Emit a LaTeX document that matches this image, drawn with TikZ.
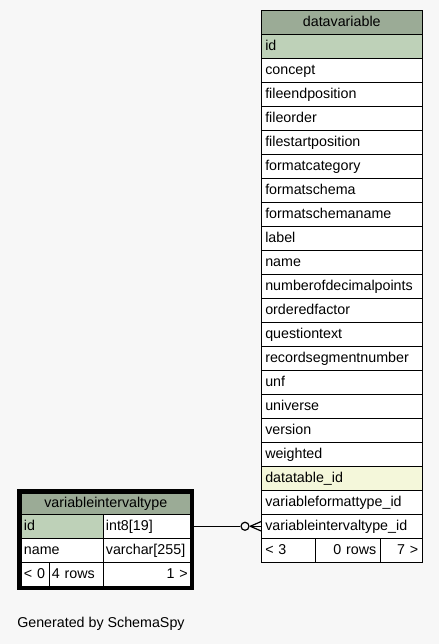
\documentclass[tikz,border=0pt]{standalone}
\usepackage{fontspec}
\setmainfont{Liberation Sans}
\usepackage{tikz}
\usetikzlibrary{positioning}

\definecolor{bgcol}{HTML}{F7F7F7}
\definecolor{hdrcol}{HTML}{9BAB96}
\definecolor{pkcol}{HTML}{BED1B8}
\definecolor{fkcol}{HTML}{F4F7DA}

\tikzset{
  tblrow/.style={draw, anchor=north west, fill=white, minimum height=18pt,
    inner xsep=3pt, inner ysep=0pt, text width=#1, align=left,
    text height=7.8pt, text depth=2.2pt,
    font=\fontsize{10.7}{12}\selectfont},
  tblrow/.default=114.75pt,
  tblhead/.style={tblrow=#1, align=center, fill=hdrcol},
  tblfoot/.style={tblrow=#1, align=right},
  relline/.style={line width=0.9pt},
}

\begin{document}
\begin{tikzpicture}[x=0.75pt,y=0.75pt,yscale=-1,xscale=1]
	%background, sets the diagram size
	\fill [bgcol] (0,0) rectangle (439,644);

	%Table: datavariable
	\node [tblhead=114.75pt] (dvhead) at (261,10) {datavariable};
	\node [tblrow, fill=pkcol] (dvid) at (261,34) {id};
	\node [tblrow] (dvconcept) at (261,58) {concept};
	\node [tblrow] (dvfileend) at (261,82) {fileendposition};
	\node [tblrow] (dvfileorder) at (261,106) {fileorder};
	\node [tblrow] (dvfilestart) at (261,130) {filestartposition};
	\node [tblrow] (dvfmtcat) at (261,154) {formatcategory};
	\node [tblrow] (dvfmtschema) at (261,178) {formatschema};
	\node [tblrow] (dvfmtname) at (261,202) {formatschemaname};
	\node [tblrow] (dvlabel) at (261,226) {label};
	\node [tblrow] (dvname) at (261,250) {name};
	\node [tblrow] (dvdecimals) at (261,274) {numberofdecimalpoints};
	\node [tblrow] (dvordered) at (261,298) {orderedfactor};
	\node [tblrow] (dvquestion) at (261,322) {questiontext};
	\node [tblrow] (dvrecseg) at (261,346) {recordsegmentnumber};
	\node [tblrow] (dvunf) at (261,370) {unf};
	\node [tblrow] (dvuniverse) at (261,394) {universe};
	\node [tblrow] (dvversion) at (261,418) {version};
	\node [tblrow] (dvweighted) at (261,442) {weighted};
	\node [tblrow, fill=fkcol] (dvtable) at (261,466) {datatable\_id};
	\node [tblrow] (dvformat) at (261,490) {variableformattype\_id};
	\node [tblrow] (dvinterval) at (261,514) {variableintervaltype\_id};
	% footer
	\node [tblrow=34.5pt] (dvparents) at (261,538) {< 3};
	\node [tblfoot=42.75pt] (dvrows) at (315,538) {0 rows};
	\node [tblfoot=25.5pt] (dvchildren) at (380,538) {7 >};

	%Table: variableintervaltype
	\node [tblhead=122.75pt, inner xsep=2pt, minimum height=15.75pt] (vithead) at (21,493) {variableintervaltype};
	\node [tblrow=57.5pt, inner xsep=2pt, fill=pkcol] (vitid) at (21,514) {id};
	\node [tblrow=61.25pt, inner xsep=2pt] (vitidtype) at (103,514) {int8[19]};
	\node [tblrow=57.5pt, inner xsep=2pt] (vitname) at (21,538) {name};
	\node [tblrow=61.25pt, inner xsep=2pt] (vitnametype) at (103,538) {varchar[255]};
	% footer
	\node [tblrow=17pt, inner xsep=2pt] (vitparents) at (21,562) {< 0};
	\node [tblrow=36.5pt, inner xsep=2pt] (vitrows) at (49,562) {4 rows};
	\node [tblfoot=61.25pt, inner xsep=2pt] (vitchildren) at (103,562) {1 >};
	%Shape: Rectangle, thick border of the focus table
	\draw [line width=3pt] (19,491) rectangle (192,587.5);

	%Connector: zero or many
	\node [circle, draw, relline, fill=bgcol, minimum size=6pt, inner sep=0pt] (vitopt) at ([xshift=-12pt]dvinterval.west) {};
	\draw [relline] (vitidtype.east) -- (vitopt.west);
	\draw [relline] (vitopt.east) -- (dvinterval.west);
	\draw [relline] ([xshift=-8pt]dvinterval.west) -- ([yshift=3.5pt]dvinterval.west);
	\draw [relline] ([xshift=-8pt]dvinterval.west) -- ([yshift=-3.5pt]dvinterval.west);

	% Text Node
	\node [anchor=west, inner sep=0pt, font=\fontsize{10.7}{12}\selectfont] (credit) at (17,624) {Generated by SchemaSpy};
\end{tikzpicture}
\end{document}
